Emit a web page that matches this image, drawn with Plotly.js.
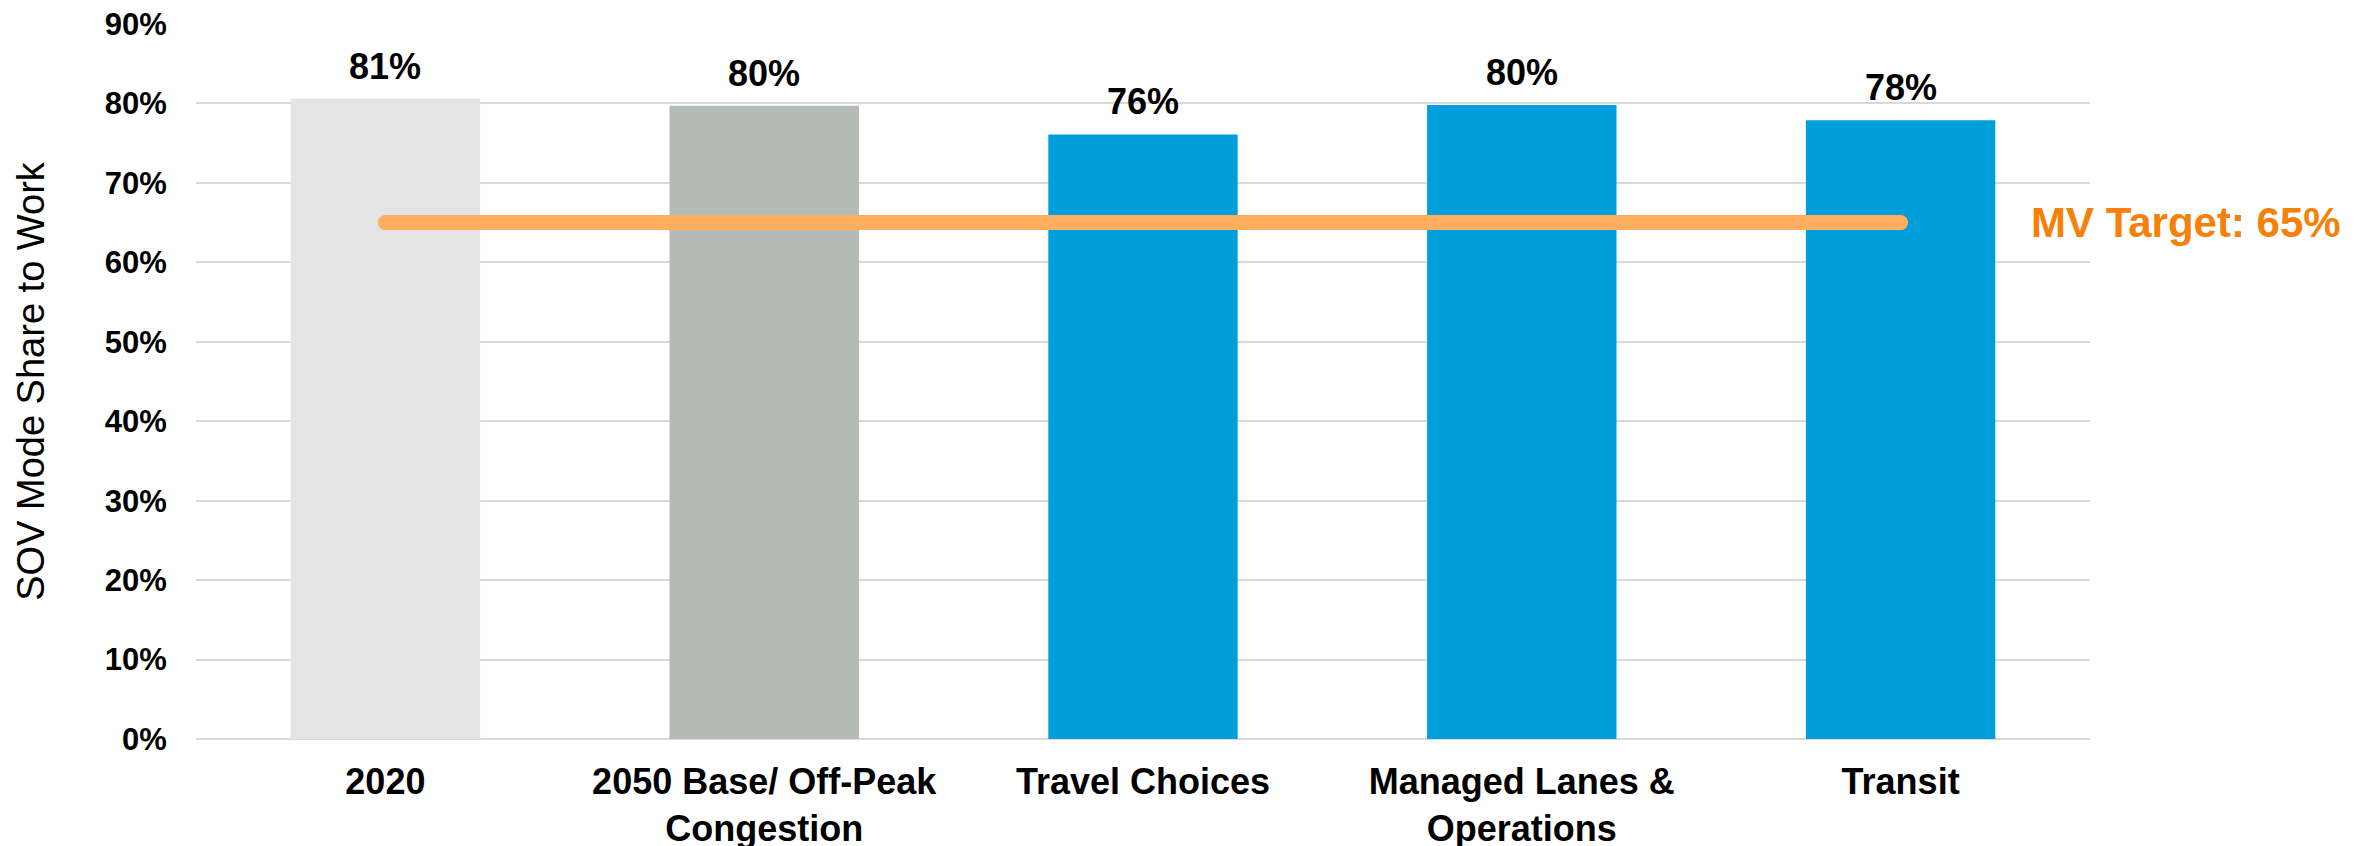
<!DOCTYPE html>
<html>
<head>
<meta charset="utf-8">
<script src="https://cdn.plot.ly/plotly-3.0.1.min.js"></script>
<style>
  html, body { margin: 0; padding: 0; background: #ffffff; }
  #chart { width: 2377px; height: 846px; }
  .scatterlayer .js-line { stroke-linecap: round; }
</style>
</head>
<body>
<div id="chart"></div>
<script>
// ---- data ----
const categories = ["2020", "2050 Base/ Off-Peak<br>Congestion", "Travel Choices", "Managed Lanes &<br>Operations", "Transit"];
const sovShare = [80.6, 79.7, 76.1, 79.8, 77.9];
const barColors = ["#E4E4E4", "#B3BCB4", "#009EDB", "#009EDB", "#009EDB"];
const targetValue = 65;
const targetName = "MV Target";
const yTickVals = [0, 10, 20, 30, 40, 50, 60, 70, 80, 90];

const FONT = "'Liberation Sans', Arial, sans-serif";

const barTrace = {
  type: "bar",
  x: categories,
  y: sovShare,
  marker: { color: barColors, line: { width: 0 } },
  hoverinfo: "skip",
  showlegend: false
};

const targetTrace = {
  type: "scatter",
  mode: "lines",
  x: [categories[0], categories[categories.length - 1]],
  y: [targetValue, targetValue],
  line: { color: "#FFAD5E", width: 15 },
  hoverinfo: "skip",
  showlegend: false
};

const annotations = categories.map((c, i) => ({
  x: i, y: sovShare[i], xref: "x", yref: "y",
  text: "<b>" + Math.round(sovShare[i]) + "%</b>",
  showarrow: false, yanchor: "bottom", yshift: 10,
  font: { family: FONT, size: 36, color: "#000000" }
}));
annotations.push({
  x: 0.968, xref: "paper", xanchor: "left",
  y: targetValue, yref: "y", yanchor: "middle",
  text: "<b>" + targetName + ": " + targetValue + "%</b>",
  showarrow: false,
  font: { family: FONT, size: 42, color: "#F5800A" }
});

const layout = {
  width: 2377, height: 846,
  margin: { l: 196, r: 287, t: 24, b: 107, pad: 0 },
  paper_bgcolor: "#ffffff", plot_bgcolor: "#ffffff",
  bargap: 0.5,
  font: { family: FONT, color: "#000000" },
  xaxis: {
    type: "category",
    tickfont: { family: FONT, size: 36, color: "#000000", weight: "bold" },
    ticks: "outside", ticklen: 11, tickcolor: "rgba(0,0,0,0)",
    showgrid: false, zeroline: false, showline: false,
    fixedrange: true
  },
  yaxis: {
    range: [0, 90],
    tickvals: yTickVals,
    ticktext: yTickVals.map(v => v + "%"),
    tickfont: { family: FONT, size: 31, color: "#000000", weight: "bold" },
    ticks: "outside", ticklen: 22, tickcolor: "rgba(0,0,0,0)",
    showgrid: true, gridcolor: "#D9D9D9", gridwidth: 2,
    zeroline: true, zerolinecolor: "#D9D9D9", zerolinewidth: 2,
    showline: false,
    title: { text: "SOV Mode Share to Work", font: { family: FONT, size: 38, color: "#000000" }, standoff: 48 },
    fixedrange: true
  },
  annotations: annotations
};

Plotly.newPlot("chart", [barTrace, targetTrace], layout, { displayModeBar: false, staticPlot: true });
</script>
</body>
</html>
